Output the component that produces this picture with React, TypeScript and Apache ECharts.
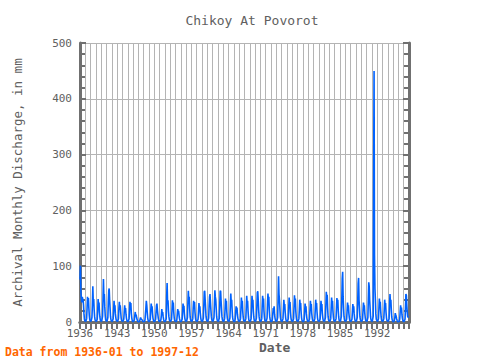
import React, { useEffect, useRef } from "react";
import * as echarts from "echarts";

const title = "Chikoy At Povorot";
const yAxisName = "Archival Monthly Discharge, in mm";
const xAxisName = "Date";
const footnote = "Data from 1936-01 to 1997-12";
const yTicks = [0, 100, 200, 300, 400, 500];
const xTickYears = [1936, 1943, 1950, 1957, 1964, 1971, 1978, 1985, 1992];
const firstYear = 1936;

// monthly discharge (mm), Jan..Dec, one row per year from 1936
const discharge: number[][] = [
  [76, 101, 55, 43, 35, 45, 42, 40, 30, 15, 5, 2],
  [2, 1, 1, 6, 25, 45, 30, 43, 25, 12, 4, 2],
  [2, 1, 1, 8, 30, 64, 35, 41, 22, 10, 4, 2],
  [2, 1, 1, 5, 20, 41, 30, 35, 18, 9, 3, 2],
  [2, 1, 1, 10, 40, 77, 45, 50, 28, 12, 4, 2],
  [2, 1, 1, 8, 35, 56, 60, 40, 25, 10, 4, 2],
  [2, 1, 1, 6, 20, 38, 25, 30, 15, 8, 3, 2],
  [2, 1, 1, 6, 25, 36, 22, 30, 18, 8, 3, 2],
  [2, 1, 1, 5, 18, 30, 20, 25, 14, 7, 3, 1],
  [1, 1, 1, 6, 22, 36, 28, 34, 16, 8, 3, 1],
  [1, 1, 1, 4, 12, 18, 10, 13, 8, 5, 2, 1],
  [1, 0, 0, 2, 5, 8, 6, 5, 4, 3, 1, 1],
  [1, 1, 1, 4, 15, 25, 38, 30, 18, 8, 3, 1],
  [1, 1, 1, 5, 20, 33, 25, 28, 15, 7, 3, 1],
  [1, 1, 1, 5, 18, 30, 33, 22, 14, 7, 3, 1],
  [1, 1, 1, 4, 12, 23, 15, 18, 10, 5, 2, 1],
  [1, 1, 1, 6, 45, 70, 35, 39, 20, 10, 4, 2],
  [2, 1, 1, 5, 20, 39, 30, 35, 18, 8, 3, 2],
  [1, 1, 1, 4, 14, 23, 18, 20, 12, 6, 3, 1],
  [1, 1, 1, 5, 18, 33, 25, 29, 15, 7, 3, 1],
  [2, 1, 1, 8, 35, 56, 40, 45, 25, 10, 4, 2],
  [2, 1, 1, 6, 25, 38, 30, 36, 18, 8, 3, 2],
  [2, 1, 1, 5, 18, 34, 25, 28, 16, 8, 3, 2],
  [2, 1, 1, 7, 30, 54, 56, 40, 25, 10, 4, 2],
  [2, 1, 1, 7, 28, 45, 50, 35, 22, 10, 4, 2],
  [2, 1, 1, 8, 32, 57, 45, 40, 25, 10, 4, 2],
  [2, 1, 1, 7, 30, 55, 56, 38, 24, 10, 4, 2],
  [2, 1, 1, 6, 22, 42, 30, 38, 18, 8, 3, 2],
  [2, 1, 1, 7, 28, 51, 35, 40, 22, 9, 4, 2],
  [1, 1, 1, 5, 16, 28, 22, 26, 14, 7, 3, 1],
  [2, 1, 1, 6, 24, 44, 30, 38, 20, 9, 3, 2],
  [2, 1, 1, 6, 26, 47, 32, 38, 20, 9, 3, 2],
  [2, 1, 1, 6, 26, 47, 35, 40, 20, 9, 3, 2],
  [2, 1, 1, 7, 30, 53, 55, 40, 22, 10, 4, 2],
  [2, 1, 1, 6, 28, 47, 35, 42, 20, 9, 3, 2],
  [2, 1, 1, 7, 30, 51, 40, 45, 22, 10, 4, 2],
  [1, 1, 1, 5, 15, 25, 20, 28, 14, 7, 3, 1],
  [2, 1, 1, 8, 44, 82, 50, 40, 25, 10, 4, 2],
  [2, 1, 1, 6, 22, 40, 28, 32, 18, 8, 3, 2],
  [2, 1, 1, 6, 25, 44, 30, 36, 18, 8, 3, 2],
  [2, 1, 1, 6, 28, 48, 35, 42, 20, 9, 3, 2],
  [2, 1, 1, 6, 22, 40, 30, 34, 18, 8, 3, 2],
  [1, 1, 1, 5, 18, 33, 25, 28, 15, 7, 3, 1],
  [2, 1, 1, 5, 20, 38, 28, 32, 16, 8, 3, 2],
  [2, 1, 1, 6, 22, 40, 30, 34, 18, 8, 3, 2],
  [2, 1, 1, 5, 20, 38, 28, 32, 16, 8, 3, 2],
  [2, 1, 1, 8, 30, 54, 40, 49, 25, 10, 4, 2],
  [2, 1, 1, 6, 24, 44, 32, 38, 20, 9, 3, 2],
  [2, 1, 1, 6, 24, 43, 32, 40, 20, 9, 3, 2],
  [2, 1, 1, 10, 40, 78, 90, 45, 25, 10, 4, 2],
  [2, 1, 1, 5, 20, 35, 28, 30, 16, 8, 3, 2],
  [2, 1, 1, 5, 18, 32, 25, 28, 15, 7, 3, 1],
  [2, 1, 1, 8, 35, 69, 79, 40, 25, 10, 4, 2],
  [2, 1, 1, 5, 20, 35, 28, 30, 16, 8, 3, 2],
  [2, 1, 1, 8, 40, 71, 64, 40, 25, 10, 4, 2],
  [2, 1, 1, 10, 250, 450, 120, 60, 40, 15, 5, 3],
  [2, 1, 1, 6, 24, 42, 32, 36, 20, 9, 3, 2],
  [2, 1, 1, 6, 22, 40, 30, 34, 18, 8, 3, 2],
  [2, 1, 1, 6, 28, 50, 35, 40, 22, 9, 4, 2],
  [1, 0, 0, 3, 8, 16, 12, 10, 6, 3, 1, 0],
  [1, 1, 1, 5, 18, 30, 22, 26, 14, 7, 3, 1],
  [1, 1, 1, 5, 25, 50, 48, 30, 18, 10, 8, 10],
];

const FONT = "DejaVu Sans Mono";
const TEXT = "#606060";
const FRAME = "#707070";
const GRID = "#b4b4b4";

export default function App() {
  const ref = useRef<HTMLDivElement>(null);
  useEffect(() => {
    document.body.style.margin = "0";
    if (!ref.current) return;
    const chart = echarts.init(ref.current, null, { renderer: "svg" });
    const points: [number, number][] = [];
    discharge.forEach((row, yi) => {
      row.forEach((v, m) => {
        points.push([firstYear + yi + m / 12, v]);
      });
    });
    const xMin = xTickYears[0];
    const xMax = firstYear + discharge.length;
    const yMax = yTicks[yTicks.length - 1];
    chart.setOption({
      animation: false,
      backgroundColor: "#ffffff",
      textStyle: { fontFamily: FONT },
      title: {
        text: title,
        left: 247,
        top: 9,
        textAlign: "center",
        textStyle: { fontFamily: FONT, fontSize: 13, fontWeight: "normal", color: TEXT },
      },
      grid: { left: 80, right: 71, top: 43, bottom: 38 },
      xAxis: [
        {
          type: "value",
          position: "bottom",
          min: xMin,
          max: xMax,
          interval: 7,
          axisLine: { show: true, lineStyle: { color: FRAME, width: 3 } },
          axisTick: { show: false },
          minorTick: { show: false, splitNumber: 7 },
          axisLabel: {
            fontFamily: FONT,
            fontSize: 11,
            color: TEXT,
            margin: 6,
            formatter: (v: number) => (xTickYears.includes(v) ? String(v) : ""),
          },
          splitLine: { show: true, lineStyle: { color: GRID, width: 1 } },
          minorSplitLine: { show: true, lineStyle: { color: GRID, width: 1 } },
        },
        {
          type: "value",
          position: "top",
          min: xMin,
          max: xMax,
          interval: 1,
          axisLine: { show: true, lineStyle: { color: FRAME, width: 3 } },
          axisTick: { show: true, inside: true, length: 7, lineStyle: { color: FRAME, width: 2 } },
          axisLabel: { show: false },
          splitLine: { show: false },
        },
      ],
      yAxis: [
        {
          type: "value",
          position: "left",
          min: 0,
          max: yMax,
          interval: 100,
          name: yAxisName,
          nameLocation: "middle",
          nameGap: 56,
          nameTextStyle: { fontFamily: FONT, fontSize: 12.5, color: TEXT },
          axisLine: { show: true, lineStyle: { color: FRAME, width: 3 } },
          axisTick: { show: true, inside: true, length: 6, lineStyle: { color: FRAME, width: 2 } },
          minorTick: { show: true, splitNumber: 5, length: 5, lineStyle: { color: FRAME, width: 2 } },
          axisLabel: { fontFamily: FONT, fontSize: 11, color: TEXT, margin: 8 },
          splitLine: { show: true, lineStyle: { color: GRID, width: 1 } },
        },
        {
          type: "value",
          position: "right",
          min: 0,
          max: yMax,
          interval: 100,
          axisLine: { show: true, lineStyle: { color: FRAME, width: 3 } },
          axisTick: { show: true, inside: true, length: 6, lineStyle: { color: FRAME, width: 2 } },
          minorTick: { show: true, splitNumber: 5, length: 5, lineStyle: { color: FRAME, width: 2 } },
          axisLabel: { show: false },
          splitLine: { show: false },
        },
      ],
      series: [
        {
          type: "line",
          xAxisIndex: 0,
          yAxisIndex: 0,
          data: points,
          showSymbol: false,
          symbol: "none",
          lineStyle: { color: "#0062ff", width: 1.6 },
          z: 5,
        },
      ],
      graphic: [
        {
          type: "text",
          left: 259,
          top: 341,
          style: { text: xAxisName, font: `bold 13px '${FONT}'`, fill: TEXT },
        },
        {
          type: "text",
          left: 5,
          top: 346,
          style: { text: footnote, font: `bold 11.5px '${FONT}'`, fill: "#ff6600" },
        },
      ],
    });
    return () => chart.dispose();
  }, []);
  return <div ref={ref} style={{ width: 480, height: 360 }} />;
}
